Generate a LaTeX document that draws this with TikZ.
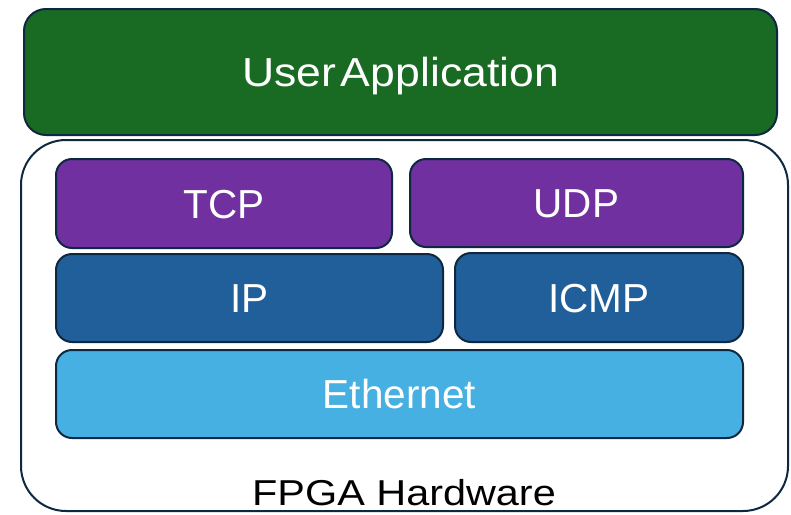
\documentclass[tikz,border=0pt]{standalone}
\usepackage{fontspec}
\setmainfont{Liberation Sans}
\newfontfamily\appfont[FakeStretch=1.1]{Liberation Sans}
\newfontfamily\hwfont[FakeStretch=1.15]{Liberation Sans}
\definecolor{edge}{HTML}{0E2841}
\definecolor{appgreen}{HTML}{196B24}
\definecolor{transport}{HTML}{7030A0}
\definecolor{network}{HTML}{215F9A}
\definecolor{link}{HTML}{45B0E1}
\begin{document}
\begin{tikzpicture}[x=1pt,y=-1pt,
  layer/.style={draw=edge, line width=2pt, rounded corners=16pt,
    text=white, font=\fontsize{40.5pt}{48pt}\selectfont,
    text height=29pt, text depth=0pt, inner sep=0pt},
  ]
  \useasboundingbox (0,0) rectangle (791,514);

  % application layer above the hardware
  \node[layer, fill=appgreen, rounded corners=22pt, minimum width=753pt, minimum height=126pt,
        font=\appfont\fontsize{40.5pt}{48pt}\selectfont]
    (app) at (400.5,72) {User\kern0.12em Application};

  % hardware frame
  \node[draw=edge, line width=2pt, rounded corners=45pt, minimum width=767pt, minimum height=371pt, inner sep=0pt]
    (hw) at (404.5,325.5) {};

  % protocol stack
  \node[layer, fill=transport, minimum width=336pt, minimum height=89pt] (tcp) at (224,203.5) {TCP};
  \node[layer, fill=transport, minimum width=333pt, minimum height=88pt] (udp) at (576.5,203) {UDP};
  \node[layer, fill=network, minimum width=387pt, minimum height=88pt] (ip) at (249.5,298) {IP};
  \node[layer, fill=network, minimum width=288pt, minimum height=89pt] (icmp) at (599,297.5) {ICMP};
  \node[layer, fill=link, minimum width=687pt, minimum height=88pt] (eth) at (399.5,394) {Ethernet};

  \node[anchor=base, inner sep=0pt, font=\hwfont\fontsize{36pt}{43pt}\selectfont]
    (hwlabel) at (404,505.5) {FPGA Hardware};
\end{tikzpicture}
\end{document}
